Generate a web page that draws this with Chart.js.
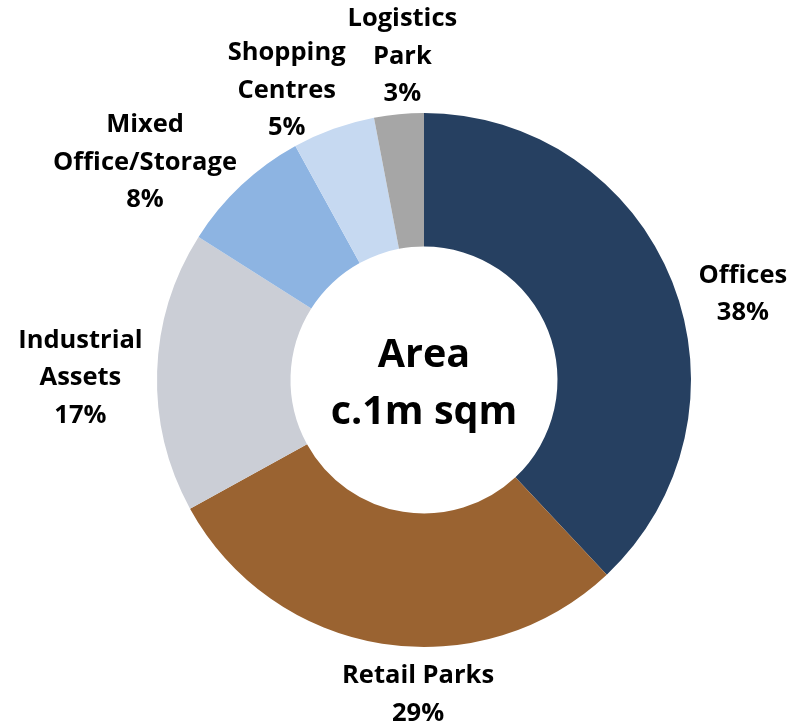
<!DOCTYPE html>
<html>
<head>
<meta charset="utf-8">
<script src="https://cdn.jsdelivr.net/npm/chart.js@4/dist/chart.umd.min.js"></script>
<style>
  html, body { margin: 0; padding: 0; background: #fff; }
  #wrap { width: 798px; height: 727px; }
</style>
</head>
<body>
<div id="wrap"><canvas id="areaChart" width="798" height="727"></canvas></div>
<script>
// --- Data ---
const categories = [
    ['Offices'],
    ['Retail Parks'],
    ['Industrial', 'Assets'],
    ['Mixed', 'Office/Storage'],
    ['Shopping', 'Centres'],
    ['Logistics', 'Park']
];
const shares = [38, 29, 17, 8, 5, 3];
const sliceColors = ['#264061', '#9A6331', '#CBCED6', '#8DB4E2', '#C6D9F1', '#A6A6A6'];
const centerLines = ['Area', 'c.1m sqm'];

// label nudges (px) on top of the default outside position
const labelNudge = [[16, 34], [45, -7], [-18, 8], [-56, 20], [-27, 17], [9, 1]];

const FONT = '"Open Sans", Lato, sans-serif';

// --- Outside labels + centre text ---
const labelPlugin = {
    id: 'outsideLabels',
    afterDraw(chart) {
        const ctx = chart.ctx;
        const arcs = chart.getDatasetMeta(0).data;
        ctx.save();
        ctx.fillStyle = '#000';
        ctx.textAlign = 'center';
        ctx.textBaseline = 'middle';
        ctx.font = 'bold 25.5px ' + FONT;
        const lineH = 37.5;
        arcs.forEach((arc, i) => {
            const p = arc.getProps(['x', 'y', 'startAngle', 'endAngle', 'outerRadius'], true);
            const mid = (p.startAngle + p.endAngle) / 2;
            const r = p.outerRadius * 1.22;
            const cx = p.x + Math.cos(mid) * r + labelNudge[i][0];
            const cy = p.y + Math.sin(mid) * r + labelNudge[i][1];
            const lines = categories[i].concat([shares[i] + '%']);
            const top = cy - (lines.length - 1) * lineH / 2;
            lines.forEach((t, k) => ctx.fillText(t, cx, top + k * lineH));
        });
        const a = arcs[0];
        ctx.font = 'bold 39.5px ' + FONT;
        ctx.fillText(centerLines[0], a.x, a.y - 24);
        ctx.fillText(centerLines[1], a.x, a.y + 33);
        ctx.restore();
    }
};

new Chart(document.getElementById('areaChart').getContext('2d'), {
    type: 'doughnut',
    data: {
        labels: categories.map(c => c.join(' ')),
        datasets: [{ data: shares, backgroundColor: sliceColors, borderWidth: 0 }]
    },
    options: {
        responsive: false,
        animation: false,
        cutout: '50%',
        layout: { padding: { left: 157, right: 107, top: 113, bottom: 80 } },
        plugins: { legend: { display: false }, tooltip: { enabled: false } }
    },
    plugins: [labelPlugin]
});
</script>
</body>
</html>
